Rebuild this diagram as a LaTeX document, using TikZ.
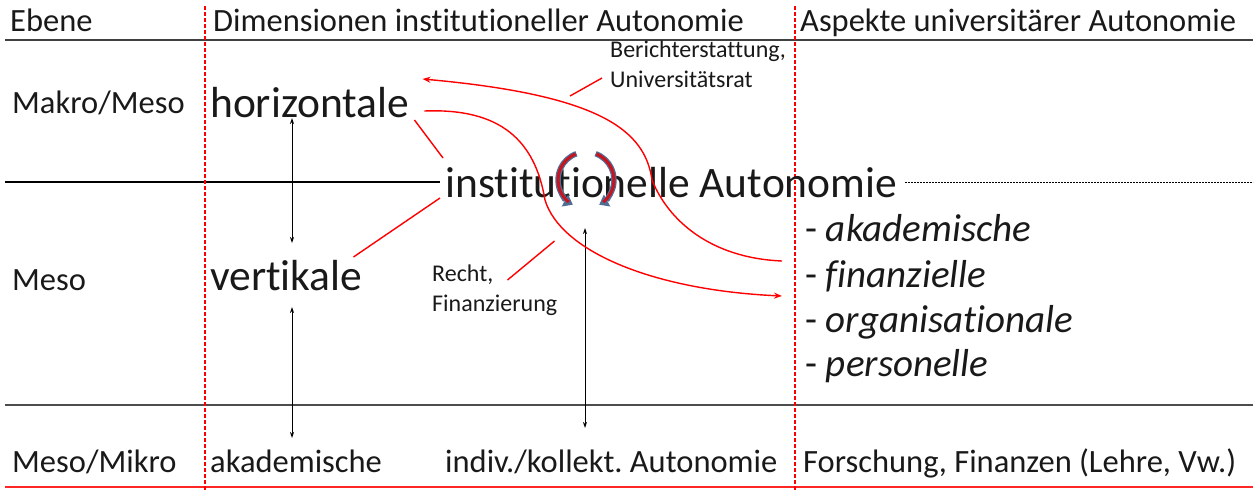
\documentclass[tikz,border=0pt]{standalone}
\usepackage{fontspec}
\setmainfont{Carlito}[RawFeature={-liga;-clig;-calt;-dlig}]
\usetikzlibrary{arrows.meta}
\frenchspacing
\begin{document}
\begin{tikzpicture}[x=1pt,y=-1pt]
        \tikzstyle{every node}=[inner sep=0pt, text=black!90, anchor=base west]
        \tikzstyle{mid}=[font=\fontsize{32.5}{36}\selectfont]
        \tikzstyle{big}=[font=\fontsize{43.5}{48}\selectfont]
        \tikzstyle{aspekt}=[font=\fontsize{39}{44}\selectfont]
        \tikzstyle{klein}=[font=\fontsize{24}{30}\selectfont]
        \tikzstyle{rot}=[red, line width=1.4pt]
        \tikzstyle{rotpfeil}=[rot, -{Stealth[length=8pt,width=6pt]}]
        \tikzstyle{pfeil}=[black, line width=1pt, {Stealth[length=6pt,width=4pt]}-{Stealth[length=6pt,width=4pt]}]
        \tikzstyle{trenn}=[red, line width=1.3pt, dash pattern=on 4pt off 2pt]
        \tikzstyle{kreisb}=[draw={rgb,255:red,79;green,110;blue,150}, line width=5.5pt, -{Triangle[length=9pt,width=13pt]}]
        \tikzstyle{kreisr}=[draw={rgb,255:red,200;green,20;blue,30}, line width=3pt]
        \useasboundingbox (0,0) rectangle (1258,493);
        % Raster
        \draw[black!75, line width=2pt] (5,40) -- (1253,40);
        \draw[black, line width=1.3pt] (5,182) -- (440,182);
        \draw[black, line width=1pt, dash pattern=on 2pt off 1pt] (905,182) -- (1253,182);
        \draw[black!70, line width=2pt] (5,405) -- (1253,405);
        \draw[red!85, line width=2.5pt] (5,487) -- (1253,487);
        \draw[trenn] (205,6) -- (205,490);
        \draw[trenn] (795,6) -- (795,490);
        % Kopfzeile und Ebenen
        \node[mid] (ebene) at (10,31) {Ebene};
        \node[mid] (dim) at (213,31) {Dimensionen institutioneller Autonomie};
        \node[mid] (asp) at (800,31) {Aspekte universitärer Autonomie};
        \node[mid] (makro) at (12,113) {Makro/Meso};
        \node[mid] (meso) at (12,290) {Meso};
        \node[mid] (mikro) at (12,472) {Meso/Mikro};
        % Dimensionen
        \node[big] (horiz) at (210,117) {horizontale};
        \node[big] (inst) at (445,197) {institutionelle Autonomie};
        \node[big] (vert) at (210,290) {vertikale};
        \node[mid] (akad) at (210,472) {akademische};
        \node[mid] (indiv) at (445,472) {indiv./kollekt. Autonomie};
        \node[mid] (forsch) at (803,472) {Forschung, Finanzen (Lehre, Vw.)};
        % Aspekte
        \node[aspekt] (akadem) at (805,241) {- \textit{akademische}};
        \node[aspekt] (finan) at (805,287) {- \textit{finanzielle}};
        \node[aspekt] (organ) at (805,332) {- \textit{organisationale}};
        \node[aspekt] (person) at (805,376) {- \textit{personelle}};
        % Beschriftungen
        \node[klein] (bericht) at (610,57) {Berichterstattung,};
        \node[klein] (unirat) at (610,87) {Universitätsrat};
        \node[klein] (recht) at (432,281) {Recht,};
        \node[klein] (finanz) at (432,311) {Finanzierung};
        % Pfeile
        \draw[pfeil] ([shift={(82,1)}]horiz.base west) -- ([shift={(82,-47)}]vert.base west);
        \draw[pfeil] ([shift={(82,17)}]vert.base west) -- ([shift={(82,-34)}]akad.base west);
        \coordinate (kreis) at (586,180);
        \draw[pfeil] ([shift={(-1,48)}]kreis) -- ([shift={(140,-44)}]indiv.base west);
        \draw[rot] ([shift={(5,3)}]horiz.base east) -- ([shift={(-2,-39)}]inst.base west);
        \draw[rot] ([shift={(-5,1)}]inst.base west) -- ([shift={(-9,-33)}]vert.base east);
        \draw[rot] ([shift={(14,-1)}]recht.base east) -- ++(47,-39);
        \draw[rot] ([shift={(-8,-9)}]unirat.base west) -- ++(-32,18);
        \draw[rotpfeil] ([shift={(-23,-26)}]finan.base west) .. controls (710,258) and (668,220) .. (652,180)
                .. controls (645,130) and (600,95) .. ([shift={(13,-38)}]horiz.base east);
        \draw[rotpfeil] ([shift={(15,-6)}]horiz.base east) .. controls (500,108) and (535,140) .. (545,200)
                .. controls (560,250) and (650,290) .. ([shift={(-23,9)}]finan.base west);
        % Kreislauf
        \draw[kreisb] (kreis) ++(250:28) arc[start angle=250, end angle=118, radius=28];
        \draw[kreisb] (kreis) ++(290:28) arc[start angle=290, end angle=422, radius=28];
        \draw[kreisr] (kreis) ++(248:28) arc[start angle=248, end angle=128, radius=28];
        \draw[kreisr] (kreis) ++(292:28) arc[start angle=292, end angle=412, radius=28];
\end{tikzpicture}
\end{document}
